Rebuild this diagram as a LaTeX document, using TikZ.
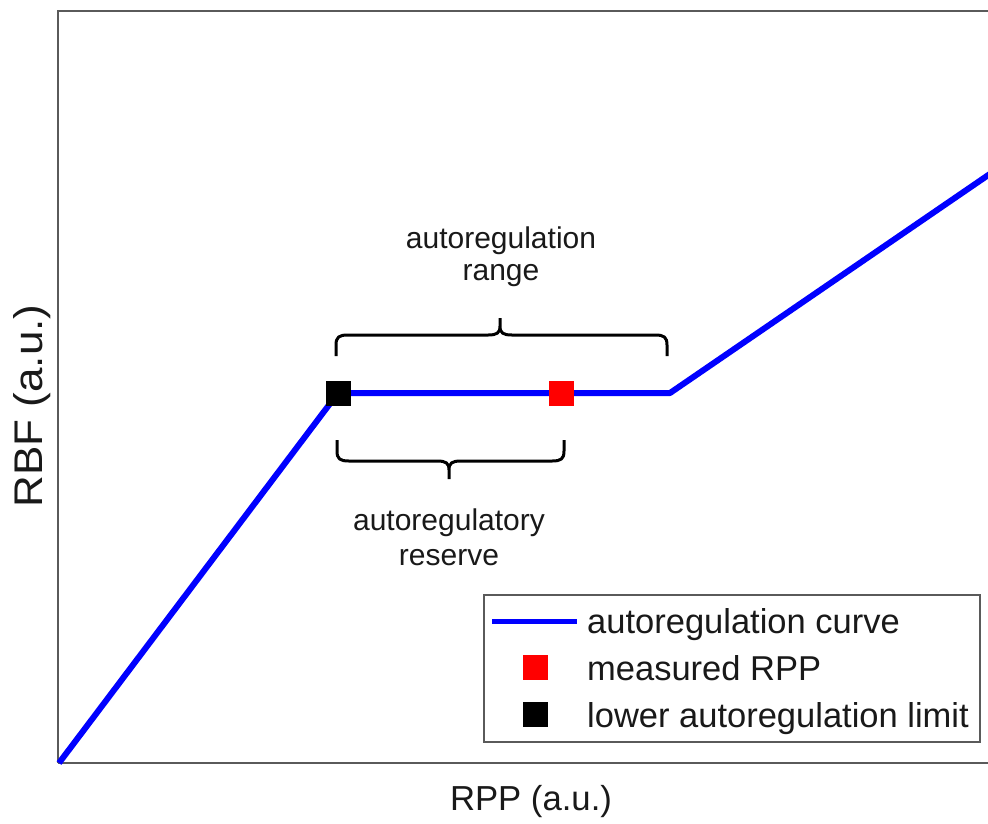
\documentclass[tikz,border=0pt]{standalone}
\usepackage{fontspec}
\setmainfont{Liberation Sans}
\definecolor{curveblue}{RGB}{0,0,255}
\definecolor{markred}{RGB}{255,0,0}
\definecolor{axisgray}{RGB}{90,90,90}
\definecolor{textdark}{RGB}{25,25,25}
\tikzset{
  curve/.style={draw=curveblue, line width=6pt, line join=round},
  axisline/.style={draw=axisgray, line width=2pt},
  bracepath/.style={draw=black, line width=3pt, line join=round},
  marker/.style={minimum size=25pt, inner sep=0pt, draw=none},
  annot/.style={font=\fontsize{30}{32}\selectfont, text=textdark, anchor=base, inner sep=0pt},
  legtext/.style={font=\fontsize{34.5}{36}\selectfont, text=textdark, anchor=base west, inner sep=0pt},
  axlabel/.style={font=\fontsize{34.7}{36}\selectfont, text=textdark, inner sep=0pt}
}
\begin{document}
\begin{tikzpicture}[x=1pt, y=-1pt]
  \useasboundingbox (0,0) rectangle (988,823);
  \clip (0,0) rectangle (988,823);
  \fill[white] (0,0) rectangle (988,823);

  % axes frame
  \draw[axisline] (58,763) -- (58,11) -- (1000,11);
  \draw[axisline] (58,763) -- (1000,763);

  % autoregulation curve
  \coordinate (origin) at (59,763);
  \coordinate (lower) at (338,393);
  \coordinate (upper) at (670,393);
  \coordinate (beyond) at (1000,167);
  \draw[curve] (origin) -- (lower) -- (upper) -- (beyond);

  % braces
  \draw[bracepath] (336,356) -- (336,345)
     .. controls (336,337) and (339,335) .. (348,335) -- (488,335)
     .. controls (497,335) and (500,333) .. (500,326) -- (500,318)
     (500,326) .. controls (500,333) and (503,335) .. (512,335) -- (655,335)
     .. controls (664,335) and (667,337) .. (667,345) -- (667,356);
  \draw[bracepath] (337,440) -- (337,451)
     .. controls (337,459) and (340,461) .. (349,461) -- (437,461)
     .. controls (446,461) and (449,463) .. (449,470) -- (449,479)
     (449,470) .. controls (449,463) and (452,461) .. (461,461) -- (552,461)
     .. controls (561,461) and (564,459) .. (564,451) -- (564,440);

  % markers on the curve
  \node[marker, fill=black] (lal) at (lower) {};
  \node[marker, fill=markred] (rpp) at (561,393) {};

  % annotations
  \node[annot] (rangeA) at (501,248) {autoregulation};
  \node[annot] (rangeB) at (501,280) {range};
  \node[annot] (resA) at (449,530) {autoregulatory};
  \node[annot] (resB) at (449,565) {reserve};

  % legend
  \node[draw=axisgray, line width=1.5pt, fill=white, minimum width=496pt, minimum height=147pt, anchor=north west, inner sep=0pt] (legend) at (483,594) {};
  \coordinate (legA) at (492,621);
  \coordinate (legB) at (577,621);
  \draw[draw=curveblue, line width=5pt] (legA) -- (legB);
  \node[legtext] (legcurve) at (587,633) {autoregulation curve};
  \node[marker, fill=markred] (legred) at (535,667) {};
  \node[legtext] (legrpp) at (587,680) {measured RPP};
  \node[marker, fill=black] (legblack) at (535,714) {};
  \node[legtext] (leglal) at (587,727) {lower autoregulation limit};

  % axis labels
  \node[axlabel, anchor=base] (xlab) at (531,810) {RPP (a.u.)};
  \node[axlabel, anchor=base, rotate=90, font=\fontsize{40}{42}\selectfont, xscale=1.1] (ylab) at (42,406) {RBF (a.u.)};
\end{tikzpicture}
\end{document}
